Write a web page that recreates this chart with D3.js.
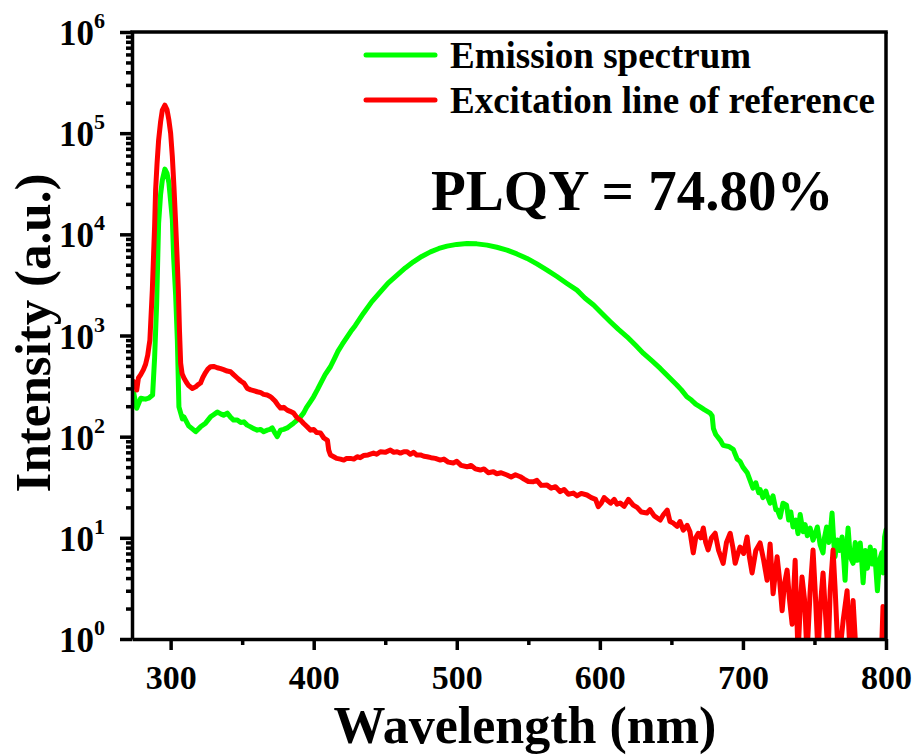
<!DOCTYPE html>
<html>
<head>
<meta charset="utf-8">
<script src="https://cdn.jsdelivr.net/npm/d3@7"></script>
<style>
body { margin: 0; background: #fff; }
text { font-family: "Liberation Serif", "Times New Roman", serif; font-weight: bold; fill: #000; }
</style>
</head>
<body>
<svg id="chart" width="913" height="756"></svg>
<script>
// values: [wavelength nm, intensity a.u.]
const emission = [[274.2,270],[276.3,191],[279.1,240],[282.5,235],[284.6,240],[287.4,258],[288.8,600],[290.2,2000],[291.6,12900],[293.0,25000],[294.2,34300],[296.0,44100],[297.5,40000],[298.8,32100],[301.2,14000],[302.1,5950],[303.5,2500],[304.7,900],[305.8,197],[308.2,150],[309.3,157],[312.6,128],[315,120],[317.5,112],[320.9,125],[324.4,136],[327.9,157],[330,165],[332.6,175],[335,168],[337.0,163],[339.6,171],[342,155],[344.0,146],[346.6,146],[349,138],[351.2,140],[353.5,130],[355.9,125],[358,120],[360.5,116],[362.8,118],[365,112],[367.5,116],[369.5,118],[371.0,122],[373,108],[374.5,100],[376.8,116],[379,118],[381.5,122],[383.5,128],[385.9,136],[388.5,146],[390.8,157],[393,172],[395,195],[397.5,220],[399.9,248],[402.5,290],[405,340],[408,410],[411.7,491],[414.5,590],[417,700],[420,820],[423.4,971],[426,1100],[429,1250],[434.8,1660],[440.5,2150],[446.6,2700],[452,3300],[458.3,3950],[464,4650],[469.7,5350],[475.5,6050],[481.6,6710],[487.5,7250],[493.2,7640],[500,7950],[507.2,8130],[514,8050],[521.2,7820],[528,7450],[535.1,6980],[542,6400],[549.1,5780],[556,5100],[563.1,4430],[570,3830],[577.0,3270],[584.0,2810],[589.5,2350],[595.6,2000],[601.5,1650],[607.3,1370],[613,1150],[619.0,971],[625,800],[630.5,665],[636.5,560],[642.2,473],[648,390],[653.8,324],[657,290],[660.8,248],[664,230],[667,210],[670.1,197],[673,185],[677.1,171],[678.5,160],[679.4,120],[681,105],[684.1,92.5],[686.2,82],[690,80],[693.2,75],[696.0,60],[698,57],[700,50],[703,44],[705,37],[707,31],[709,35],[711,28],[712,30],[714,25],[716,29],[717,26],[719,22],[721,26],[723,19],[724,19],[726,16],[728,22],[730.5,21],[732,15],[733.5,18],[735,12.8],[737,15],[738.5,11],[740,17],[742,11.5],[743.5,13.5],[745,10.5],[747,12.5],[749,9.5],[750.5,11],[752,12.8],[754,8.5],[756,7.1],[757,10],[758.5,12.8],[760,9],[761,11],[762.3,17.6],[763.5,9],[764.4,6.5],[766,9.5],[767.5,7.5],[769.3,10.2],[770.5,6],[771.4,3.8],[772.5,8],[773.5,12.5],[775,6.5],[777,5.6],[778.5,9],[780,6],[782,8.9],[783,6],[784,3.6],[785.5,7.5],[787,5],[789,8.1],[790.5,5.5],[792,7.5],[794,3.0],[795.5,6],[797,7.1],[798,4.5],[799,10.2],[800,12]];

const excitation = [[274.2,350],[275.6,330],[276.3,289],[277.5,380],[279.1,410],[281,460],[282.5,520],[284,640],[284.8,773],[285.5,900],[287.2,2810],[288.8,12000],[289.5,27300],[290.5,50000],[291.6,85300],[293,130000],[294.2,169000],[296.0,189000],[297.5,170000],[298.8,134000],[300,100000],[301.2,58300],[302.3,30000],[303.5,12900],[304.5,6000],[305.4,2810],[306.2,1100],[307.0,534],[308,420],[309.3,380],[311,345],[312.6,320],[315.2,300],[317.5,311],[319,325],[320.9,339],[322.5,385],[324.4,430],[326,465],[327.9,491],[330,495],[332.6,480],[335,470],[337.0,460],[339.5,445],[341.9,438],[344,410],[346.6,380],[349,355],[351.2,339],[353.6,300],[356,290],[358,285],[360.5,278],[363,272],[365,262],[367.5,258],[369.5,250],[371,240],[373,225],[375,205],[376.8,192],[379,195],[381.5,183],[383.5,178],[385.9,171],[388.5,153],[391,145],[393,135],[395.5,125],[397.8,116],[400,118],[402,110],[404.7,109],[407.1,97],[409.6,92],[410.5,73.7],[411.7,65.8],[414.0,63.3],[416,61],[418.7,60],[421.0,58.7],[423,61],[425.7,61],[428,60],[430.4,63.3],[432.5,62],[434.8,65],[438,66],[441.8,68.8],[444,67],[446.6,71],[450,70],[453.6,73.7],[456,70],[458.3,71],[460.6,68.8],[463,71],[465.3,70.9],[467.5,67],[469.7,70],[472,66],[474.6,66],[477,64],[479.3,63.3],[482,62],[485,61],[488.5,58.7],[491,60],[494,56],[497.6,54.9],[500,57],[503,52],[507.2,50.4],[510,52],[513,48],[516.5,46.8],[519,48],[522,44],[525.6,45],[528,43],[531,44],[535.1,41.8],[538,40],[541,42],[544.4,40.2],[547,38],[550,36],[553.5,35.8],[556,37],[559,33],[563.1,33.2],[566,31],[569,32],[572.3,28.6],[575,30],[578,27],[581.4,27.7],[584,26],[587,27.5],[591.0,26.5],[594,25],[597,24],[598.9,20.3],[601,22],[603,25],[605.0,23.6],[607.5,22],[610,24],[612,21.5],[614.2,22.1],[617,20.5],[620,24],[623.3,21.1],[626,20],[629,18],[632.9,17.6],[635,19],[638,16.5],[642.2,15],[644.5,17],[647.1,18.8],[649,14.5],[651.3,14],[654,13],[656,14.5],[658.3,11.9],[661,13.3],[663,11.5],[665.3,7.1],[667,10],[668.8,11.1],[670.5,10],[672.3,12.5],[674,9],[675.7,7.6],[678,10],[680.6,11.1],[683,7.5],[686.2,5.6],[688.5,9],[691.1,11.1],[693,8],[694.6,5.6],[696.5,7],[698.0,8.1],[700.5,7],[702.9,10.2],[704.5,6.5],[706.4,4.5],[709,7.5],[712.0,8.9],[714.5,6],[716.9,3.8],[719,8.7],[721.1,2.8],[723.9,6.5],[725.5,4],[727.4,1.9],[729,3.5],[730.9,4.8],[732.5,2.5],[734.4,1.4],[736.5,6],[738.5,0.7],[740,2],[741.3,4.1],[743,2.5],[744.8,0.7],[747,3],[749.0,7.6],[750.5,3],[752.5,0.7],[754,2],[756.0,4.5],[757.5,2],[759.5,0.7],[761,3],[763.0,7.6],[764.5,3],[766.5,0.7],[768,0.8],[770,1.5],[772.8,3.0],[774.9,0.7],[777.0,2.4],[779.7,0.5],[785,0.4],[790,0.3],[796.5,0.5],[797.9,2.1],[799.3,0.6]];

const xTicks = [300, 400, 500, 600, 700, 800];
const xMinor = [350, 450, 550, 650, 750];
const yExp = [0, 1, 2, 3, 4, 5, 6];
const seriesNames = ["Emission spectrum", "Excitation line of reference"];
const seriesColors = ["#00ff00", "#ff0000"];
const plqyLabel = "PLQY = 74.80%";

const svg = d3.select("#chart");
const box = {left: 132, right: 886, top: 32, bottom: 639};

const x = d3.scaleLinear().domain([273, 800]).range([box.left, box.right]);
const y = d3.scaleLog().domain([1, 1e6]).range([box.bottom, box.top]);

svg.append("clipPath").attr("id", "plot-clip")
  .append("rect")
  .attr("x", box.left).attr("y", box.top)
  .attr("width", box.right - box.left).attr("height", box.bottom - box.top);

// curves
const line = d3.line()
  .x(d => x(d[0]))
  .y(d => y(Math.max(d[1], 0.2)));

const curves = svg.append("g").attr("clip-path", "url(#plot-clip)");
[emission, excitation].forEach((data, i) => {
  curves.append("path")
    .datum(data)
    .attr("d", line)
    .attr("fill", "none")
    .attr("stroke", seriesColors[i])
    .attr("stroke-width", 5)
    .attr("stroke-linejoin", "round")
    .attr("stroke-linecap", "round");
});

// axes
const axisW = 3.5;
const xAxis = svg.append("g").attr("transform", `translate(0,${box.bottom})`)
  .call(d3.axisBottom(x).tickValues(xTicks).tickSize(11).tickSizeOuter(0).tickPadding(15).tickFormat(d => d));
xAxis.selectAll("text").style("font-size", "34px").attr("dy", "0.71em");
svg.append("g").attr("transform", `translate(0,${box.bottom})`)
  .call(d3.axisBottom(x).tickValues(xMinor).tickSize(6).tickSizeOuter(0).tickFormat(""))
  .select(".domain").remove();

const yMinor = [];
yExp.slice(0, -1).forEach(e => { for (let k = 2; k < 10; k++) yMinor.push(k * Math.pow(10, e)); });

const yAxis = svg.append("g").attr("transform", `translate(${box.left},0)`)
  .call(d3.axisLeft(y).tickValues(yExp.map(e => Math.pow(10, e))).tickSize(12).tickSizeOuter(0).tickFormat(""));
svg.append("g").attr("transform", `translate(${box.left},0)`)
  .call(d3.axisLeft(y).tickValues(yMinor).tickSize(6).tickSizeOuter(0).tickFormat(""))
  .select(".domain").remove();

svg.selectAll(".domain, .tick line").attr("stroke", "#000").attr("stroke-width", axisW);

// y tick labels as 10^n
const yLab = svg.append("g");
yExp.forEach(e => {
  const t = yLab.append("text")
    .attr("x", 105).attr("y", y(Math.pow(10, e)) + 13)
    .attr("text-anchor", "end")
    .style("font-size", "35px");
  t.append("tspan").text("10");
  t.append("tspan").text(e).style("font-size", "22px").attr("dy", -17);
});

// frame top and right
svg.append("line").attr("x1", box.left - axisW / 2).attr("x2", box.right + axisW / 2)
  .attr("y1", box.top).attr("y2", box.top).attr("stroke", "#000").attr("stroke-width", axisW);
svg.append("line").attr("x1", box.right).attr("x2", box.right)
  .attr("y1", box.top).attr("y2", box.bottom).attr("stroke", "#000").attr("stroke-width", axisW);

// axis titles
svg.append("text")
  .attr("x", 525).attr("y", 743)
  .attr("text-anchor", "middle")
  .style("font-size", "52px")
  .text("Wavelength (nm)");
svg.append("text")
  .attr("transform", "translate(50,333) rotate(-90)")
  .attr("text-anchor", "middle")
  .style("font-size", "51px")
  .text("Intensity (a.u.)");

// legend
const legend = svg.append("g");
seriesNames.forEach((name, i) => {
  const ly = 55 + i * 45;
  legend.append("line")
    .attr("x1", 366).attr("x2", 435).attr("y1", ly).attr("y2", ly)
    .attr("stroke", seriesColors[i]).attr("stroke-width", 5).attr("stroke-linecap", "round");
  legend.append("text")
    .attr("x", 450).attr("y", ly + 13)
    .style("font-size", "37px")
    .text(name);
});

svg.append("text")
  .attr("x", 431).attr("y", 210)
  .style("font-size", "57px")
  .text(plqyLabel);
</script>
</body>
</html>
